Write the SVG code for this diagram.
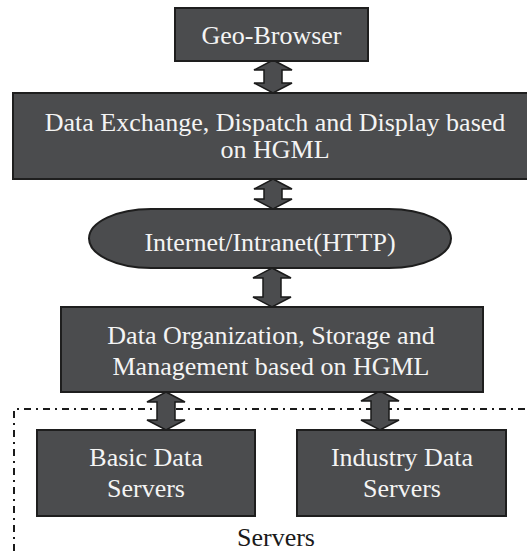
<svg xmlns="http://www.w3.org/2000/svg" width="527" height="551" viewBox="0 0 527 551">
<style>
.box{fill:#4b4c4e;stroke:#1e1e1e;stroke-width:2}
.arr{fill:#4b4c4e;stroke:#1a1a1a;stroke-width:1.5;stroke-linejoin:miter}
.t{font-family:"Liberation Serif","Times New Roman",serif;font-size:26px;fill:#f4f4f4;text-anchor:middle}
.lbl{font-family:"Liberation Serif","Times New Roman",serif;font-size:26px;fill:#1a1a1a;text-anchor:middle}
.dash{fill:none;stroke:#1a1a1a;stroke-width:2;stroke-dasharray:7 5 2 5}
</style>
<rect width="527" height="551" fill="#ffffff"/>
<g id="servers-frame">
<path class="dash" d="M14,551 L14,409 L527,409"/>
<text class="lbl" x="276" y="546">Servers</text>
</g>
<g id="connectors">
<path class="arr" d="M273,60 L292,70 L282,70 L282,83 L292,83 L273,93 L254,83 L264,83 L264,70 L254,70 Z"/>
<path class="arr" d="M273,179 L292,189 L282,189 L282,199 L292,199 L273,209 L254,199 L264,199 L264,189 L254,189 Z"/>
<path class="arr" d="M272,268 L291,278 L281,278 L281,297 L291,297 L272,307 L253,297 L263,297 L263,278 L253,278 Z"/>
<path class="arr" d="M166,392 L185,402 L175,402 L175,420 L185,420 L166,430 L147,420 L157,420 L157,402 L147,402 Z"/>
<path class="arr" d="M380,391 L399,401 L389,401 L389,420 L399,420 L380,430 L361,420 L371,420 L371,401 L361,401 Z"/>
</g>
<g id="geo-browser">
<rect class="box" x="175" y="8" width="193" height="53"/>
<text class="t" x="271.5" y="44">Geo-Browser</text>
</g>
<g id="data-exchange">
<rect class="box" x="13" y="93" width="520" height="86"/>
<text class="t" x="275" y="131">Data Exchange, Dispatch and Display based</text>
<text class="t" x="275" y="158">on HGML</text>
</g>
<g id="internet">
<rect class="box" x="89" y="209" width="362" height="59" rx="62" ry="29.5"/>
<text class="t" x="270" y="251">Internet/Intranet(HTTP)</text>
</g>
<g id="data-organization">
<rect class="box" x="61" y="307" width="422" height="85"/>
<text class="t" x="271" y="344">Data Organization, Storage and</text>
<text class="t" x="271" y="375">Management based on HGML</text>
</g>
<g id="basic-data-servers">
<rect class="box" x="37" y="430" width="218" height="86"/>
<text class="t" x="146" y="466">Basic Data</text>
<text class="t" x="146" y="497">Servers</text>
</g>
<g id="industry-data-servers">
<rect class="box" x="297" y="430" width="209" height="86"/>
<text class="t" x="402" y="466">Industry Data</text>
<text class="t" x="402" y="497">Servers</text>
</g>
</svg>
